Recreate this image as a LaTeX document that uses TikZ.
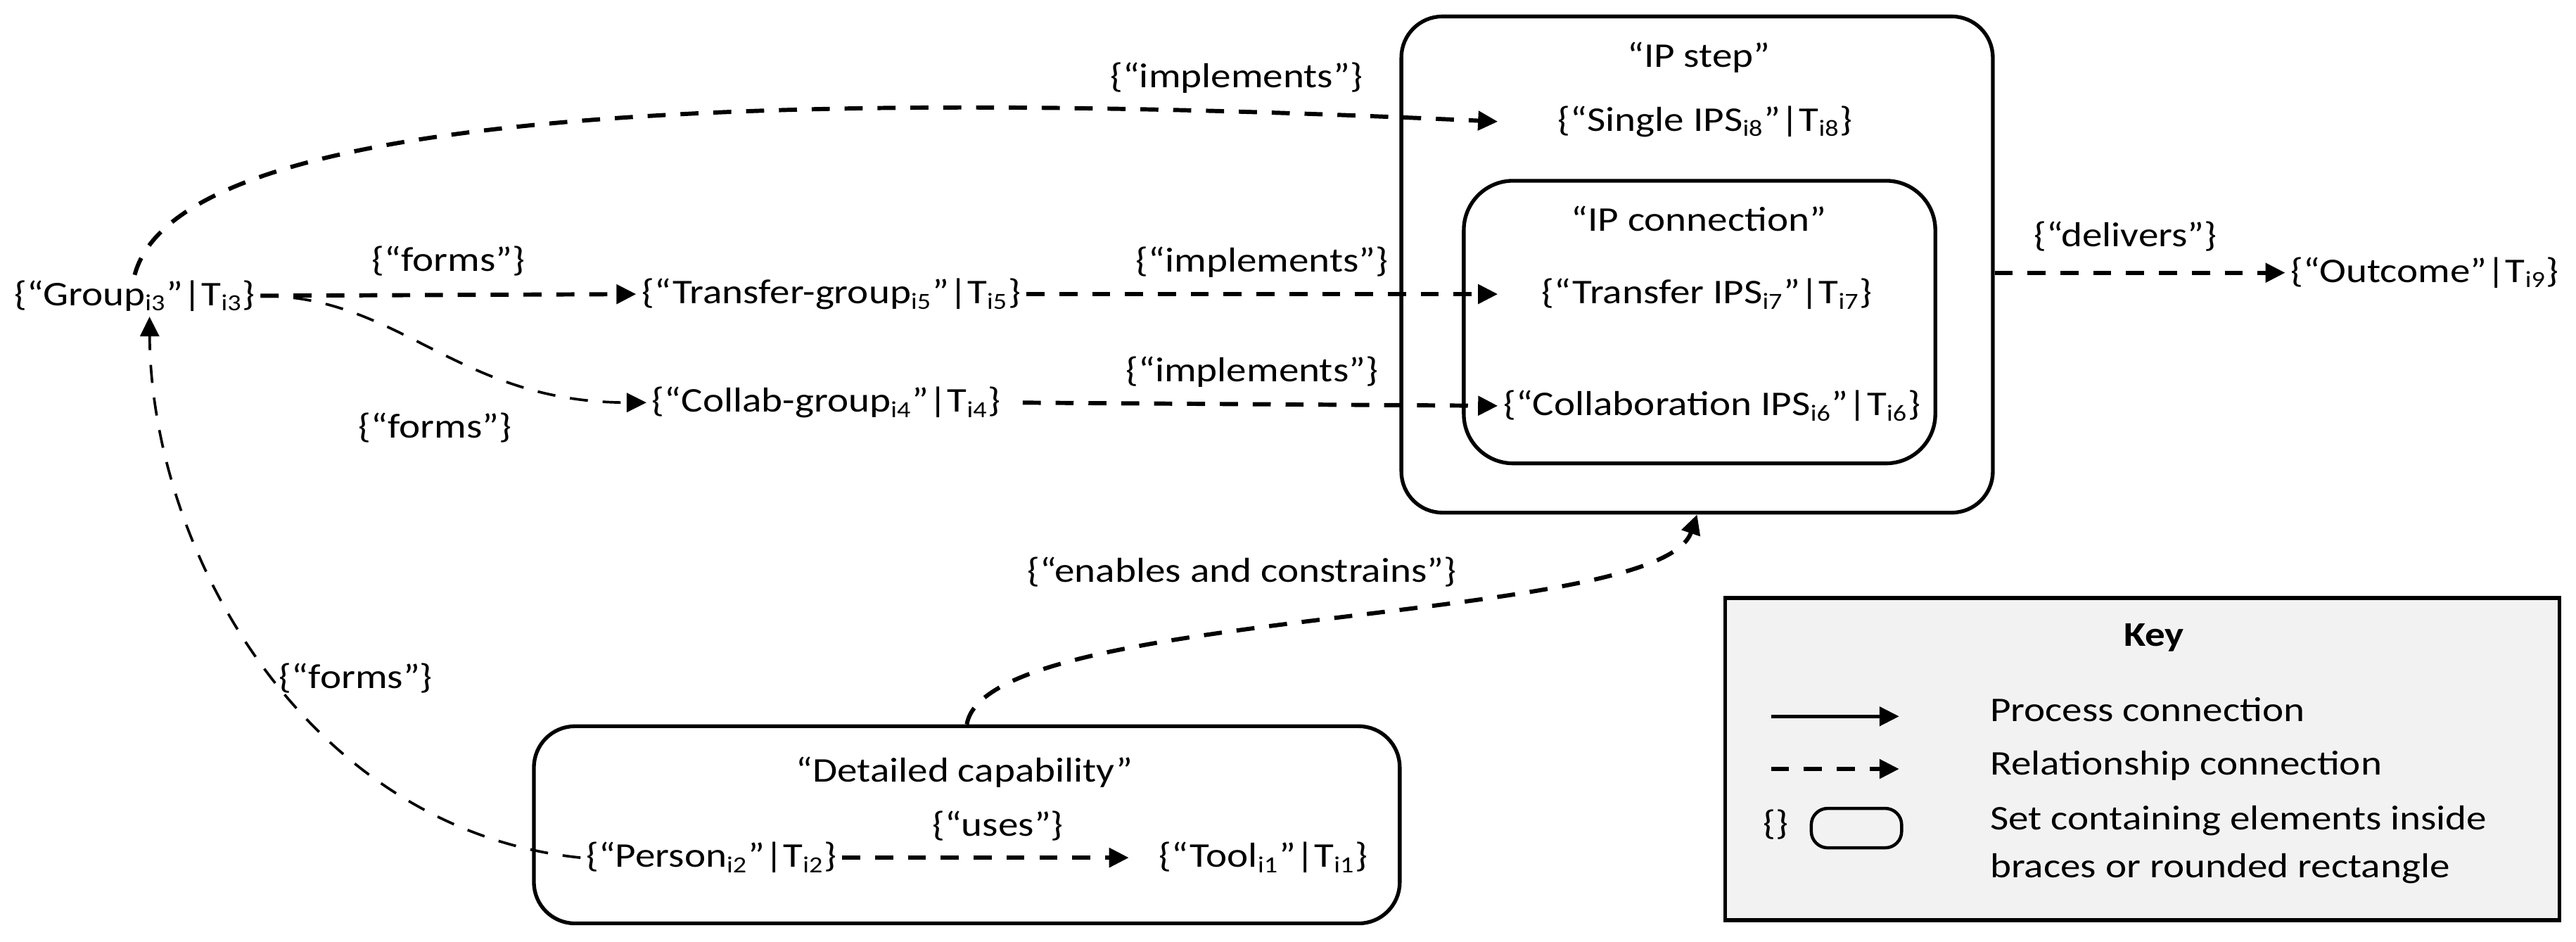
\documentclass[tikz,border=0pt]{standalone}
\usepackage{fontspec}
\setmainfont{Carlito}[FakeStretch=1.16]
\usepackage{xcolor}
\definecolor{KeyGrey}{HTML}{F2F2F2}
\usetikzlibrary{arrows.meta,positioning}
\newcommand{\idx}[1]{\textsubscript{#1}}

\begin{document}
\begin{tikzpicture}[
  x=0.2mm,y=-0.2mm,
  every node/.style={font=\fontsize{12pt}{14pt}\selectfont,align=center,inner sep=0.6mm},
  setbox/.style={draw,line width=1.3pt,rounded corners=5mm,inner sep=0pt},
  rel/.style={-{Triangle[length=2.4mm,width=2.3mm]},line width=1.45pt,dash pattern=on 2.2mm off 1.8mm},
  relthin/.style={rel,line width=0.9pt},
  proc/.style={-{Triangle[length=2.4mm,width=2.3mm]},line width=1.3pt}
]
\useasboundingbox (0,0) rectangle (1568,573);

% sets drawn as rounded rectangles
\node[setbox,minimum width=72mm,minimum height=60.4mm] (ipstep) at (1033,161) {};
\node (ipsteplbl) at (1034,35) {“IP step”};
\node[setbox,rounded corners=6mm,minimum width=57.4mm,minimum height=34.4mm] (ipconn) at (1034.5,196) {};
\node (ipconnlbl) at (1034,133) {“IP connection”};
\node[setbox,minimum width=105.4mm,minimum height=24mm] (capab) at (588.5,502) {};
\node (capablbl) at (587,470) {“Detailed capability”};

% elements
\node (grp) at (82,180) {\{“Group\idx{i3}”|T\idx{i3}\}};
\node (tgrp) at (506,179) {\{“Transfer-group\idx{i5}”|T\idx{i5}\}};
\node (cgrp) at (503,245) {\{“Collab-group\idx{i4}”|T\idx{i4}\}};
\node (single) at (1038,74) {\{“Single IPS\idx{i8}”|T\idx{i8}\}};
\node (tips) at (1039,179) {\{“Transfer IPS\idx{i7}”|T\idx{i7}\}};
\node (cips) at (1042,247) {\{“Collaboration IPS\idx{i6}”|T\idx{i6}\}};
\node (outcome) at (1476,166) {\{“Outcome”|T\idx{i9}\}};
\node (person) at (433,522) {\{“Person\idx{i2}”|T\idx{i2}\}};
\node (tool) at (769,522) {\{“Tool\idx{i1}”|T\idx{i1}\}};

% relationships
\draw[rel] (grp.north) .. controls +(28,-106) and +(-413,-19) .. (cips.west |- single)
  node[pos=0.87,above=1.4mm] {\{“implements”\}};
\draw[rel] (grp.east) -- (tgrp.west) node[midway,above=1.5mm] {\{“forms”\}};
\draw[relthin] (grp.east) .. controls +(85,0) and +(-115,0) .. (cgrp.west)
  node[pos=0.5,below=7mm] {\{“forms”\}};
\draw[rel] (tgrp.east) -- (cips.west |- tips) node[midway,above=1.2mm] {\{“implements”\}};
\draw[rel,shorten <=2mm] (cgrp.east) -- (cips.west) node[midway,above=1.2mm] {\{“implements”\}};
\draw[rel] (ipstep.east |- outcome) -- (outcome.west) node[pos=0.45,above=1.8mm] {\{“delivers”\}};
\draw[rel,shorten >=3mm] (person.east) -- (tool.west) node[midway,above=1.2mm] {\{“uses”\}};
\draw[relthin] (person.west) .. controls +(-165,-17) and +(1,145) .. ([xshift=1.8mm]grp.south)
  node[pos=0.48,right] {\{“forms”\}};
\draw[rel] (capab.north) .. controls +(12,-72) and +(-23,68) .. (ipstep.south)
  node[pos=0.42,above=4.2mm] {\{“enables and constrains”\}};

% key
\node[draw,line width=1.3pt,fill=KeyGrey,minimum width=101.6mm,minimum height=39.2mm,inner sep=0pt] (key) at (1304,462) {};
\node[font=\fontsize{12pt}{14pt}\selectfont\bfseries] (keylbl) at (1311,388) {Key};
\coordinate (procA) at (1078,436);
\coordinate (procB) at (1156,436);
\draw[proc] (procA) -- (procB);
\coordinate (relA) at (1078,468);
\coordinate (relB) at (1156,468);
\draw[rel] (relA) -- (relB);
\node (braces) at (1081,502) {\{\}};
\node[draw,line width=1.1pt,rounded corners=2mm,minimum width=11mm,minimum height=4.8mm,inner sep=0pt] (minibox) at (1130,504) {};
\node[anchor=west] (proctxt) at (1208,432) {Process connection};
\node[anchor=west] (reltxt) at (1208,466) {Relationship connection};
\node[anchor=west,align=left,font=\fontsize{12pt}{16.5pt}\selectfont] (settxt) at (1208,514) {Set containing elements inside\\braces or rounded rectangle};
\end{tikzpicture}
\end{document}
